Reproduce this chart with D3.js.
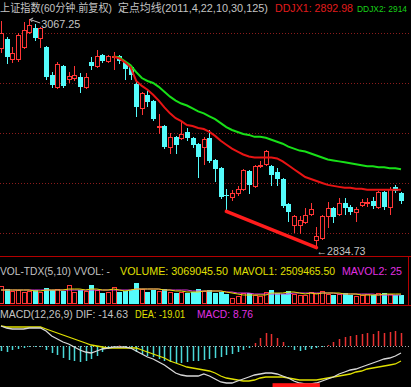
<!DOCTYPE html>
<html>
<head>
<meta charset="utf-8">
<script src="https://cdn.jsdelivr.net/npm/d3@7"></script>
<style>
  html, body { margin: 0; padding: 0; background: #000; overflow: hidden; }
  svg { display: block; }
</style>
</head>
<body>
<div id="chart"></div>
<script>
// 60-minute candles
const opens = [3038,3047,3026,3026,3039,3054,3058,3048,3039,3010, 2998,3019,3006,3007,3008,2998,3023,3019,3031,3024,
  3028,3029,3023,3018,3001,2976,2990,2984,2957,2958, 2937,2947,2946,2952,2946,2940,2937,2946,2923,2915,
  2888,2886,2890,2894,2912,2897,2917,2919,2917,2911, 2904,2879,2857,2857,2860,2868,2842,2844,2866,2874,
  2868,2880,2875,2870,2877,2880,2882,2875,2891,2875, 2896,2890];
const highs = [3065,3049,3039,3053,3064,3067.25,3062,3059,3040,3013, 3023,3020,3013,3019,3012,3012,3028,3036,3032,3031,
  3034,3030,3024,3019,3003,2993,2995,2985,2970,2959, 2951,2948,2962,2956,2947,2941,2947,2954,2924,2916,
  2894,2893,2897,2914,2913,2918,2922,2934,2918,2915, 2905,2880,2867,2866,2874,2880,2855,2867,2881,2875,
  2885,2885,2877,2875,2884,2885,2886,2892,2892,2896, 2898,2891];
const lows = [3034,3022,3023,3024,3038,3053,3046,3039,3006,2998, 2997,2998,3003,3005,2993,2997,3016,3018,3023,3023,
  3016,3022,3006,3006,2968,2970,2978,2964,2951,2936, 2931,2931,2945,2944,2937,2906,2919,2921,2902,2885,
  2871,2883,2888,2893,2890,2896,2916,2918,2898,2898, 2875,2861,2850,2849,2859,2867,2834.73,2843,2855,2860,
  2867,2868,2868,2861,2876,2876,2874,2874,2873,2868, 2891,2880];
const closes = [3053,3028,3033,3051,3056,3061,3048,3058,3008,3000, 3021,2999,3009,3010,2998,3008,3019,3029,3024,3029,
  3029,3024,3016,3010,2977,2992,2983,2965,2958,2937, 2947,2939,2950,2946,2939,2926,2945,2922,2914,2886,
  2887,2890,2894,2913,2898,2917,2918,2933,2908,2904, 2876,2870,2866,2862,2867,2873,2846,2866,2874,2865,
  2880,2874,2870,2873,2881,2881,2876,2891,2875,2894, 2892,2882];

// fixed-point averages start at candle 21
const maStart = 20;
const ddjx1 = [3029,3027,3023,3018,3004,2999,2995,2990,2984,2977, 2971,2966,2963,2959,2958,2956,2955,2952,2948,2943,
  2939,2935,2932,2929,2927,2926,2926,2926,2926,2925, 2922,2918,2914,2910,2906,2904,2902,2900,2898,2897,
  2896,2895,2895,2894,2894,2893,2893,2893,2893,2893, 2893,2892.98];
const ddjx2 = [3029,3028,3024,3020,3013,3007,3004,3002,2998,2993, 2988,2984,2981,2979,2976,2973,2971,2968,2965,2961,
  2957,2954,2952,2950,2949,2947,2947,2946,2944,2942, 2940,2937,2935,2933,2932,2930,2928,2926,2924,2923,
  2922,2921,2920,2919,2918,2917,2917,2916,2916,2915, 2915,2914];

const gridPrices = [3053, 3002, 2951, 2900, 2849];

// hand-drawn support line (candle index, price)
const trendLine = [{ i: 40, p: 2871 }, { i: 56, p: 2834 }];

// volume in 10k
const vols = [612,510,442,476,408,442,476,408,544,476, 510,442,646,408,476,442,646,476,374,408,
  578,408,442,476,714,510,408,476,442,510, 408,374,408,374,408,510,442,476,374,408,
  340,204,272,374,374,306,272,408,476,374, 340,442,340,306,306,408,374,442,340,306,
  340,374,306,272,306,340,306,374,374,340, 306,306.904550];
const mavol1 = [476,476,476,476,476,476,442,442,476,476, 476,476,510,510,510,476,510,510,476,476,
  510,476,442,476,510,510,510,510,510,476, 476,442,442,408,408,408,442,442,442,442,
  408,374,340,306,306,306,306,306,374,374, 374,408,408,374,340,374,340,374,374,374,
  374,340,340,340,306,306,306,306,340,340, 340,340];
const mavol2 = [476,476,476,476,476,476,476,476,476,476, 476,476,476,476,476,476,476,476,476,476,
  476,476,476,476,510,510,510,510,510,476, 476,476,476,476,442,442,442,442,442,442,
  408,408,374,374,374,340,340,340,340,340, 340,340,374,374,374,374,374,374,374,374,
  340,340,340,340,340,340,340,306,306,306, 306,306];

// MACD panel
const dif = [10,9,8.5,8.5,8.5,9,9,9,7.5,5, 3.5,2,1,-0.5,-2,-3,-3.5,-2.5,-1.5,-1,
  -0.5,-0.5,-0.5,-1,-2.5,-4,-5.5,-6.5,-8,-9.5, -11.5,-13.5,-14.5,-15,-15,-15,-14,-15,-16.5,-18,
  -18.5,-18.5,-17.5,-16.5,-15.5,-14.5,-14,-13.5,-13.5,-14, -15,-16,-17.5,-18.5,-19,-19,-18.5,-17.5,-16.5,-15.5,
  -14,-13,-12,-11.5,-10.5,-9.5,-8.5,-7.5,-6.5,-6, -5,-3.5];
const dea = [10,9.5,9.5,9.5,9.5,9.5,9.5,9.5,8.5,7.5, 6.5,5.5,4.5,3.5,2.5,1.5,0.5,0,-0.5,-1,
  -1,-1,-1,-1,-1,-2,-3,-4,-5,-6, -7.5,-8.5,-9.5,-10.5,-11,-11.5,-12,-12.5,-13.5,-15,
  -16,-16.5,-17,-17.5,-17.5,-17,-16,-15.5,-15.5,-15.5, -15.5,-16,-16.5,-17,-17,-17,-17,-16.5,-16,-15.5,
  -15,-14.5,-14,-13,-12.5,-11.5,-11,-10.5,-10,-9.5, -9,-7.5];
const macd = [-2.5,-3,-2,-1.5,-1,-0.5,-0.5,-0.5,-2,-3.5, -4.5,-6,-7,-7.5,-8,-7.5,-6.5,-5,-3,-1.5,
  -0.5,0.3,-0.5,-1,-3,-4,-5,-5.5,-6.5,-7.5, -8,-8.5,-8.5,-8,-7.5,-7.5,-7,-6.5,-6,-5.5,
  -4.5,-4,-3,-2,-1,1.5,4,6.5,6,4, 2,-0.5,-2,-2.5,-2,-1.5,-1,-0.5,0.5,2,
  3.5,4.5,5,5.5,6,6.5,6,7.5,6.5,7, 7.5,6.5];
const macdMark = { from: 48.2, to: 56.6, top: -18.6 };

const W = 411, H = 387;
const RED = '#ff3636', CYAN = '#54fcfc', GRAY = '#c4c4c4', YELLOW = '#e0e000', MAGENTA = '#e030e0';
const FONT = '"Liberation Sans", "Noto Sans CJK SC", sans-serif';
const fmt2 = d3.format('.2f');
const n = closes.length;
const idx = d3.range(n);
const up = i => closes[i] >= opens[i];

const svg = d3.select('#chart').append('svg')
  .attr('width', W).attr('height', H)
  .style('background', '#000')
  .attr('font-family', FONT)
  .attr('font-size', 11);

// text with a fixed run width so the header rows line up like the terminal's
function label(px, py, color, str, len) {
  const t = svg.append('text').attr('x', px).attr('y', py).attr('fill', color).text(str);
  if (len) t.attr('textLength', len).attr('lengthAdjust', 'spacingAndGlyphs');
  return t;
}

const defs = svg.append('defs');
defs.append('clipPath').attr('id', 'clipMain')
  .append('rect').attr('x', 0).attr('y', 14).attr('width', W).attr('height', 242);
defs.append('clipPath').attr('id', 'clipMacd')
  .append('rect').attr('x', 0).attr('y', 306).attr('width', W).attr('height', 81);

const x = d3.scaleLinear().domain([0, n - 1]).range([1, 401]);
const y = d3.scaleLinear().domain([2826.5, 3071.3]).range([255, 15]);
const yVol = d3.scaleLinear().domain([0, 850]).range([304, 279]);
const yMacd = d3.scaleLinear().domain([-20.5, 14]).range([387, 318]);

// ---- main panel
const main = svg.append('g').attr('clip-path', 'url(#clipMain)');

main.selectAll('.grid').data(gridPrices).join('line')
  .attr('x1', 0).attr('x2', W)
  .attr('y1', d => Math.round(y(d)) + 0.5).attr('y2', d => Math.round(y(d)) + 0.5)
  .attr('stroke', '#8c1c1c').attr('stroke-dasharray', '1,2');

main.selectAll('.candle').data(idx).join('g')
  .attr('shape-rendering', 'crispEdges')
  .each(function(i) {
    const g = d3.select(this);
    const cx = Math.round(x(i));
    const top = Math.round(y(Math.max(opens[i], closes[i])));
    const bot = Math.round(y(Math.min(opens[i], closes[i])));
    const hi = Math.round(y(highs[i]));
    const lo = Math.round(y(lows[i]));
    if (up(i)) {
      g.append('line').attr('x1', cx + 0.5).attr('x2', cx + 0.5).attr('y1', hi).attr('y2', top)
        .attr('stroke', RED);
      g.append('line').attr('x1', cx + 0.5).attr('x2', cx + 0.5).attr('y1', bot + 1).attr('y2', lo + 1)
        .attr('stroke', RED);
      g.append('rect').attr('x', cx - 1.5).attr('y', top + 0.5)
        .attr('width', 4).attr('height', Math.max(bot - top, 0))
        .attr('fill', '#000').attr('stroke', RED);
    } else {
      g.append('line').attr('x1', cx + 0.5).attr('x2', cx + 0.5).attr('y1', hi).attr('y2', lo + 1)
        .attr('stroke', CYAN);
      g.append('rect').attr('x', cx - 2).attr('y', top)
        .attr('width', 5).attr('height', Math.max(bot - top, 1))
        .attr('fill', CYAN);
    }
  });

const maLine = d3.line().x((d, k) => x(k + maStart)).y(d => y(d));
main.append('path').datum(ddjx2)
  .attr('fill', 'none').attr('stroke', '#18e018').attr('stroke-width', 2).attr('d', maLine);
main.append('path').datum(ddjx1)
  .attr('fill', 'none').attr('stroke', '#e81414').attr('stroke-width', 2).attr('d', maLine);

main.append('line')
  .attr('x1', x(trendLine[0].i)).attr('y1', y(trendLine[0].p))
  .attr('x2', x(trendLine[1].i)).attr('y2', y(trendLine[1].p))
  .attr('stroke', '#ff1c1c').attr('stroke-width', 3.5).attr('stroke-linecap', 'round');

// high / low markers
const hiIdx = d3.maxIndex(highs), loIdx = d3.minIndex(lows);
const hx = x(hiIdx), hy = y(highs[hiIdx]);
svg.append('path')
  .attr('d', `M${hx + 11},${hy + 4}L${hx + 1},${hy + 0.5}M${hx + 4},${hy - 1}L${hx + 1},${hy + 0.5}L${hx + 3},${hy + 3}`)
  .attr('fill', 'none').attr('stroke', GRAY).attr('stroke-width', 1);
label(hx + 12, hy + 9, GRAY, fmt2(highs[hiIdx]), 39);

const lx = x(loIdx), ly = y(lows[loIdx]);
label(lx, ly + 8, GRAY, '←' + fmt2(lows[loIdx]), 49);

// ---- titles
label(0, 12, GRAY, '上证指数(60分钟.前复权)', 112);
label(118, 12, GRAY, '定点均线(2011,4,22,10,30,125)', 150);
label(275, 12, '#e01c1c', 'DDJX1: ' + fmt2(ddjx1[ddjx1.length - 1]), 78);
label(357, 12, '#18d018', 'DDJX2: ' + d3.format('.0f')(ddjx2[ddjx2.length - 1]), 50)
  .attr('font-size', 8.8);

// ---- volume panel
svg.append('g').attr('shape-rendering', 'crispEdges').selectAll('line')
  .data([256.5, 305.5]).join('line')
  .attr('x1', 0).attr('x2', W).attr('y1', d => d).attr('y2', d => d)
  .attr('stroke', '#b40000');
svg.append('line').attr('x1', 408.5).attr('x2', 408.5).attr('y1', 256).attr('y2', 306)
  .attr('stroke', '#b40000').attr('shape-rendering', 'crispEdges');

label(0, 275, GRAY, 'VOL-TDX(5,10) VVOL: -', 110);
label(120, 275, YELLOW, 'VOLUME: ' + fmt2(vols[n - 1] * 10000), 108);
label(233, 275, YELLOW, 'MAVOL1: 2509465.50', 102);
label(342, 275, MAGENTA, 'MAVOL2: 25', 60);

svg.append('g').attr('shape-rendering', 'crispEdges')
  .selectAll('rect').data(idx).join('rect')
  .attr('x', i => up(i) ? Math.round(x(i)) - 1.5 : Math.round(x(i)) - 2)
  .attr('y', i => up(i) ? Math.round(yVol(vols[i])) + 0.5 : Math.round(yVol(vols[i])))
  .attr('width', i => up(i) ? 4 : 5)
  .attr('height', i => 304 - Math.round(yVol(vols[i])) - (up(i) ? 1 : 0))
  .attr('fill', i => up(i) ? '#000' : CYAN)
  .attr('stroke', i => up(i) ? RED : 'none');

const volLine = d3.line().x((d, i) => x(i)).y(d => yVol(d));
svg.append('path').datum(mavol2).attr('fill', 'none').attr('stroke', MAGENTA).attr('stroke-width', 1).attr('d', volLine);
svg.append('path').datum(mavol1).attr('fill', 'none').attr('stroke', YELLOW).attr('stroke-width', 1).attr('d', volLine);

// ---- MACD panel
label(0, 318, GRAY, 'MACD(12,26,9) DIF: -14.63', 128);
label(135, 318, YELLOW, 'DEA: -19.01', 50);
label(197, 318, MAGENTA, 'MACD: 8.76', 56);

const mg = svg.append('g').attr('clip-path', 'url(#clipMacd)');
mg.append('line').attr('x1', 0).attr('x2', W)
  .attr('y1', Math.round(yMacd(0)) + 0.5).attr('y2', Math.round(yMacd(0)) + 0.5)
  .attr('stroke', '#a8a8a8').attr('stroke-dasharray', '1,2');

mg.selectAll('.stick').data(idx).join('line')
  .attr('x1', i => Math.round(x(i)) + 0.5).attr('x2', i => Math.round(x(i)) + 0.5)
  .attr('y1', yMacd(0)).attr('y2', i => yMacd(macd[i]))
  .attr('stroke', i => macd[i] >= 0 ? '#e83030' : '#4ad8d8')
  .attr('stroke-width', 1.5);

const macdLine = d3.line().x((d, i) => x(i)).y(d => yMacd(d));
mg.append('path').datum(dea).attr('fill', 'none').attr('stroke', YELLOW).attr('stroke-width', 1.3).attr('d', macdLine);
mg.append('path').datum(dif).attr('fill', 'none').attr('stroke', '#d8d8d8').attr('stroke-width', 1.3).attr('d', macdLine);

mg.append('rect')
  .attr('x', x(macdMark.from)).attr('width', x(macdMark.to) - x(macdMark.from))
  .attr('y', yMacd(macdMark.top)).attr('height', H - yMacd(macdMark.top))
  .attr('fill', '#ff1414');
</script>
</body>
</html>
